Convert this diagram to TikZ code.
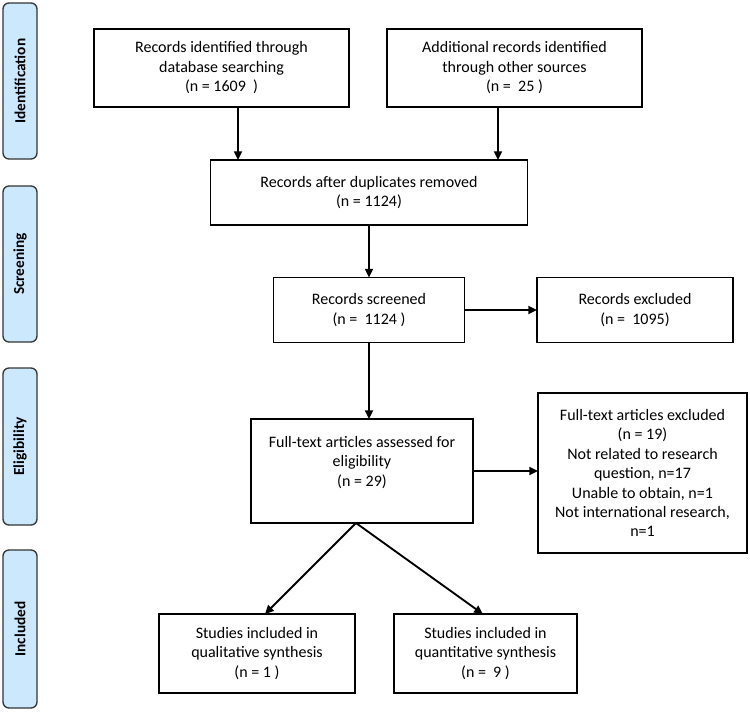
\documentclass[tikz,border=0pt]{standalone}
\usepackage{fontspec}
\setmainfont{Carlito}
\usetikzlibrary{arrows.meta,calc}
\definecolor{barblue}{RGB}{204,232,252}
\begin{document}
\begin{tikzpicture}[x=0.75pt,y=-0.75pt,
  box/.style={draw=black,line width=1pt,inner sep=0pt,outer sep=0pt,align=center,
    font=\fontsize{12}{14.6}\selectfont},
  bar/.style={draw=black!80,line width=1pt,fill=barblue,rounded corners=4.5pt,
    minimum width=25.5pt,inner sep=0pt,outer sep=0pt},
  barlabel/.style={rotate=90,font=\fontsize{11.5}{13}\selectfont\bfseries},
  arr/.style={line width=1.4pt,-{Triangle[length=6.5pt,width=6pt]}}]
\useasboundingbox (0,0) rectangle (750,711);
% phase bars
\node[bar,minimum height=117pt] (pid) at (20,81) {};
\node[barlabel] (lid) at (pid.center) {Identification};
\node[bar,minimum height=117pt] (psc) at (20,264) {};
\node[barlabel] (lsc) at (psc.center) {Screening};
\node[bar,minimum height=117.75pt] (pel) at (20,446.5) {};
\node[barlabel] (lel) at (pel.center) {Eligibility};
\node[bar,minimum height=118.5pt] (pin) at (20,629) {};
\node[barlabel] (lin) at (pin.center) {Included};
% boxes
\node[box,minimum width=191.25pt,minimum height=58.5pt] (b1) at (221.5,68)
  {Records identified through\\database searching\\(n = 1609~~)};
\node[box,minimum width=191.25pt,minimum height=58.5pt] (b2) at (514.5,68)
  {Additional records identified\\through other sources\\(n =~~25 )};
\node[box,minimum width=237.75pt,minimum height=48.75pt] (b3) at (369,192.5)
  {Records after duplicates removed\\(n = 1124)};
\node[box,minimum width=143.25pt,minimum height=48.75pt] (b4) at (369,310)
  {Records screened\\(n =~~1124 )};
\node[box,minimum width=147pt,minimum height=48.75pt] (b5) at (635,310)
  {Records excluded\\(n =~~1095)};
\node[box,minimum width=166.5pt,minimum height=78pt] (b6) at (362,471)
  {Full-text articles assessed for\\eligibility\\(n = 29)\\\mbox{}};
\node[box,minimum width=156.75pt,minimum height=120pt] (b7) at (642.5,473)
  {Full-text articles excluded\\(n = 19)\\Not related to research\\question, n=17\\Unable to obtain, n=1\\Not international research,\\n=1};
\node[box,minimum width=147pt,minimum height=59.25pt] (b8) at (257,653.5)
  {Studies included in\\qualitative synthesis\\(n = 1 )};
\node[box,minimum width=137.25pt,minimum height=59.25pt] (b9) at (485.5,653.5)
  {Studies included in\\quantitative synthesis\\(n =~~9 )};
% connectors
\draw[arr] ([xshift=12.4pt]b1.south) -- ([xshift=12.4pt]b1.south |- b3.north);
\draw[arr] ([xshift=-12.4pt]b2.south) -- ([xshift=-12.4pt]b2.south |- b3.north);
\draw[arr] (b3.south) -- (b4.north);
\draw[arr] (b4.east) -- (b4.east -| b5.west);
\draw[arr] (b4.south) -- (b4.south |- b6.north);
\draw[arr] (b6.east) -- (b6.east -| b7.west);
\coordinate (apex) at ([xshift=-4.5pt]b6.south);
\draw[arr] (apex) -- ([xshift=6pt]b8.north);
\draw[arr] (apex) -- ([xshift=-2pt]b9.north);
\end{tikzpicture}
\end{document}
